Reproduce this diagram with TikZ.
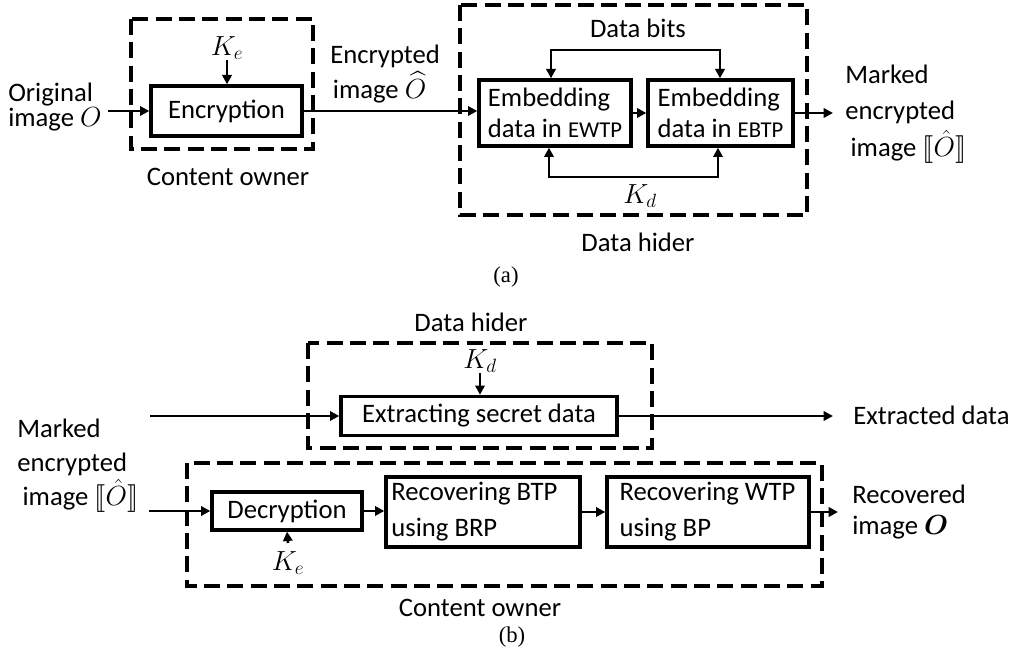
\documentclass[tikz,border=0pt]{standalone}
\usepackage{amsmath}
\usepackage{stmaryrd}
\usepackage{fontspec}
\setmainfont{Carlito}
\newfontfamily\capfont{Liberation Serif}
\usetikzlibrary{arrows.meta}
\tikzset{
  box/.style={draw, line width=2.5pt, inner sep=0pt, align=left},
  grp/.style={draw, line width=2.6pt, dash pattern=on 12pt off 5.5pt},
  arr/.style={line width=2pt, -{Triangle[length=7pt,width=7pt]}},
  arrtwo/.style={line width=2pt, {Triangle[length=7pt,width=7pt]}-{Triangle[length=7pt,width=7pt]}, line join=miter},
  lbl/.style={inner sep=0pt, align=left},
  captxt/.style={inner sep=0pt, font=\capfont\fontsize{17}{20}\selectfont}
}
\newcommand{\smallcaps}[1]{{\fontsize{17}{20}\selectfont #1}}
\begin{document}
\begin{tikzpicture}[x=0.75pt,y=-0.75pt, font=\fontsize{20}{24}\selectfont]
\useasboundingbox (0,0) rectangle (1025,656);

% ---------------- (a) ----------------
\draw[grp] (131,19) rectangle (313,149);
\draw[grp] (460,5) rectangle (807,215);

\node[box, minimum width=113.25pt, minimum height=37.5pt, align=center] (enc) at (226.5,111) {Encryption};
\node[box, minimum width=114pt, minimum height=49.5pt] (ewtp) at (555,113) {Embedding\\[-1pt]data in \smallcaps{EWTP}};
\node[box, minimum width=108.75pt, minimum height=49.5pt] (ebtp) at (720.5,113) {Embedding\\[-1pt]data in \smallcaps{EBTP}};

\node[lbl, anchor=west, font=\fontsize{20}{19}\selectfont] (orig) at (8,107) {Original\\image $O$};
\node[lbl, anchor=west, font=\fontsize{20}{26}\selectfont] (encimg) at (330,74) {Encrypted\\\hspace*{2pt}image $\widehat{O}$};
\node[lbl, anchor=west, font=\fontsize{20}{27.5}\selectfont] (marked1) at (845,114) {Marked\\encrypted\\\hspace*{4pt}image $\llbracket\hat{O}\rrbracket$};

\node[lbl] (ke1) at (227,48) {$K_e$};
\node[lbl] (db) at (638,28) {Data bits};
\node[lbl] (kd1) at (640,196) {$K_d$};
\node[lbl] (co1) at (228,177) {Content owner};
\node[lbl] (dh1) at (638,242) {Data hider};
\node[captxt] (capa) at (506,277) {(a)};

\coordinate (a0) at (108,111);
\coordinate (a1) at (833,113);
\coordinate (t1) at (551,50);
\coordinate (t2) at (720,50);
\coordinate (b1) at (549,177);
\coordinate (b2) at (718,177);

\draw[arr] (a0) -- (enc.west);
\draw[arr] (enc.east) -- (enc.east -| ewtp.west);
\draw[arr] (ewtp.east) -- (ebtp.west);
\draw[arr] (ebtp.east) -- (a1);
\draw[arr] (ke1.south) -- (ke1.south |- enc.north);
\draw[arrtwo] (t1 |- ewtp.north) -- (t1) -- (t2) -- (t2 |- ebtp.north);
\draw[arrtwo] (b1 |- ewtp.south) -- (b1) -- (b2) -- (b2 |- ebtp.south);

% ---------------- (b) ----------------
\draw[grp] (308,343) rectangle (652,448);
\draw[grp] (187,463) rectangle (822,586);

\node[box, minimum width=207pt, minimum height=29.25pt, align=center] (ext) at (479,416) {Extracting secret data};
\node[box, minimum width=112.5pt, minimum height=28.5pt, align=center] (dec) at (287,511) {Decryption};
\node[box, minimum width=145.5pt, minimum height=52.5pt, font=\fontsize{20}{27}\selectfont] (btp) at (483,512) {Recovering BTP\\using BRP\hspace*{58pt}};
\node[box, minimum width=151.5pt, minimum height=52.5pt, font=\fontsize{20}{27}\selectfont] (wtp) at (708,512) {Recovering WTP\\using BP\hspace*{64pt}};

\node[lbl] (dh2) at (471,322) {Data hider};
\node[lbl] (kd2) at (480,361) {$K_d$};
\node[lbl] (ke2) at (288,563) {$K_e$};
\node[lbl, anchor=west] (extd) at (853,415) {Extracted data};
\node[lbl, anchor=west, font=\fontsize{20}{25.5}\selectfont] (marked2) at (17,466) {Marked\\encrypted\\\hspace*{4pt}image $\llbracket\hat{O}\rrbracket$};
\node[lbl, anchor=west, font=\fontsize{20}{23}\selectfont] (rec) at (852,512) {Recovered\\image $\boldsymbol{O}$};
\node[lbl] (co2) at (480,608) {Content owner};
\node[captxt] (capb) at (512,637) {(b)};

\coordinate (c0) at (150,416);
\coordinate (c1) at (833,416);
\coordinate (d0) at (149,511);
\coordinate (d1) at (838,512);
\coordinate (keb) at (288,543);

\draw[arr] (c0) -- (ext.west);
\draw[arr] (ext.east) -- (c1);
\draw[arr] (kd2.south) -- (kd2.south |- ext.north);
\draw[arr] (d0) -- (dec.west);
\draw[arr] (keb) -- (dec.south);
\draw[arr] (dec.east) -- (dec.east -| btp.west);
\draw[arr] (btp.east) -- (wtp.west);
\draw[arr] (wtp.east) -- (d1);
\end{tikzpicture}
\end{document}
